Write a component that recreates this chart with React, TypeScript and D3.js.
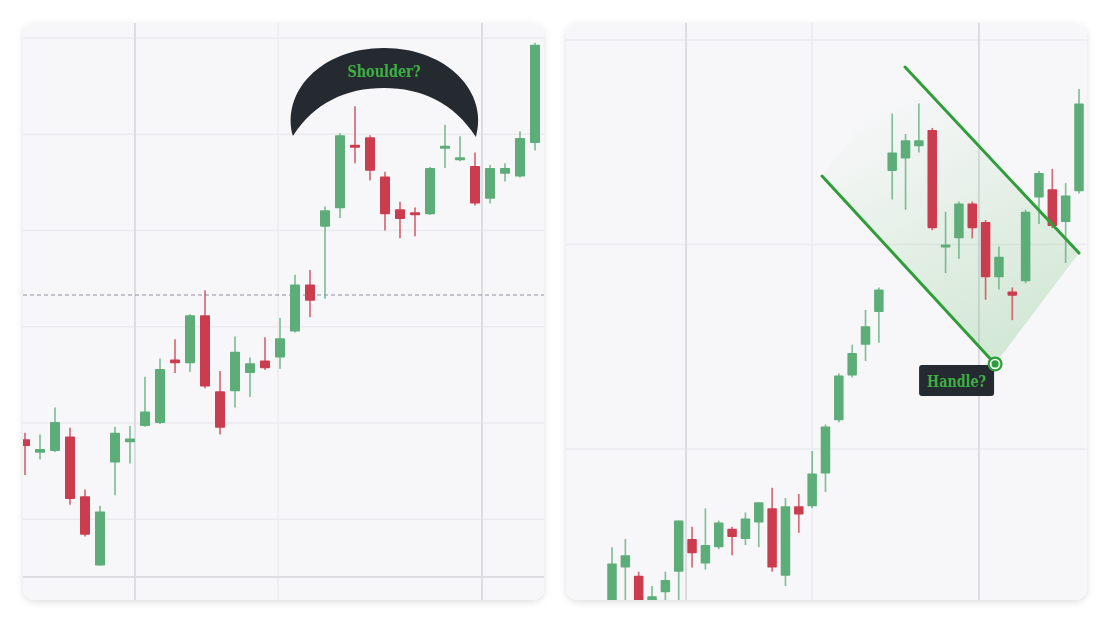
import React from "react";
import * as d3 from "d3";

// ---------- Left panel data (possible "shoulder") ----------
const leftOpen = [108.3,106.9,107.1,108.6,102.4,95.2,105.9,108.0,109.7,110.0,116.6,116.2,121.2,113.3,113.3,115.2,116.5,116.8,119.5,124.4,130.4,132.3,138.9,139.7,135.6,132.2,131.9,131.7,138.5,137.3,136.7,133.3,135.9,135.6,139.1];
const leftHigh = [109.0,108.8,111.6,109.5,103.1,101.4,109.6,109.7,114.8,116.7,118.7,121.3,123.8,115.4,119.0,116.8,118.9,120.9,125.4,125.9,132.5,140.1,142.9,139.9,136.1,133.0,132.4,136.6,141.0,139.8,138.1,136.8,137.0,140.3,149.5];
const leftLow = [104.6,106.2,107.0,101.5,98.2,95.2,102.5,105.8,109.6,109.9,115.2,115.3,113.6,108.8,111.6,112.7,115.5,115.6,119.4,121.0,122.9,131.3,137.0,135.2,130.0,129.2,129.4,131.6,136.5,137.2,132.6,132.8,135.1,135.5,138.3];
const leftClose = [107.6,107.3,110.1,102.1,98.4,100.8,109.0,108.4,111.2,115.6,116.2,121.2,113.8,109.5,117.4,116.2,115.7,118.8,124.4,122.7,132.1,139.9,138.6,136.2,131.7,131.2,131.6,136.5,138.8,137.6,132.8,136.5,136.5,139.6,149.3];
const leftPriceTicks = [100, 110, 120, 130, 140, 150];
const leftTimeGrid = [7.33, 16.87, 30.47];
const leftTimeGridStrong = [true, false, true];
const leftDashedLevel = 123.3;
const shoulderLabel = "Shoulder?";
const shoulderAnchor = { index: 23.93, price: 144.7 };

// ---------- Right panel data (possible "handle") ----------
const rightOpen = [192.1,194.2,193.8,192.5,193.0,194.0,195.6,194.4,195.2,196.1,195.6,196.4,197.1,193.8,197.2,197.2,198.8,201.4,203.6,205.1,206.7,213.6,214.2,214.8,215.6,209.9,210.3,212.0,211.1,208.4,207.7,208.2,212.3,212.7,211.1,212.6];
const rightHigh = [195.2,195.6,194.0,193.3,194.0,196.5,196.2,197.1,196.5,196.2,196.9,197.4,198.1,197.6,197.8,199.9,201.2,203.7,205.1,206.8,207.9,216.4,215.4,216.9,215.7,211.6,212.1,212.1,211.2,209.9,207.9,211.7,213.6,213.7,213.0,217.6];
const rightLow = [191.6,192.0,191.6,192.2,192.6,192.4,194.2,194.1,195.1,194.8,195.3,195.2,194.0,193.3,195.9,197.1,197.9,201.3,203.5,204.3,205.2,212.2,211.7,214.5,210.7,208.6,209.3,210.3,207.3,207.8,206.3,208.1,211.0,210.8,209.1,212.5];
const rightClose = [194.4,194.8,192.1,192.8,193.6,196.5,194.9,195.3,196.4,195.7,196.6,197.4,194.2,197.2,196.8,198.8,201.1,203.6,204.7,206.0,207.8,214.5,215.1,215.1,210.8,210.0,212.0,210.8,208.4,209.4,207.5,211.6,213.5,210.9,212.4,216.9];
const rightPriceTicks = [200, 210, 220];
const rightTimeGrid = [5.55, 14.99, 27.5];
const rightTimeGridStrong = [true, false, true];
const channelUpper = [{ index: 21.96, price: 218.68 }, { index: 35.0, price: 209.58 }];
const channelLower = [{ index: 15.74, price: 213.35 }, { index: 28.71, price: 204.16 }];
const handleLabel = "Handle?";

const GREEN = "#5dad79";
const RED = "#cb3d4e";
const LINE_GREEN = "#2f9e3a";
const TEXT_GREEN = "#3fae43";
const DARK = "#242a30";
const CARD_BG = "#f7f7f9";

type Card = { x: number; y: number; w: number; h: number };

function Candles({ o, h, l, c, x, y, bw }: any) {
  return (
    <g>
      {o.map((_: number, i: number) => {
        const up = c[i] >= o[i];
        const col = up ? GREEN : RED;
        const cx = x(i);
        const top = y(Math.max(o[i], c[i]));
        const bot = y(Math.min(o[i], c[i]));
        const bh = Math.max(bot - top, 3);
        return (
          <g key={i}>
            <line x1={cx} x2={cx} y1={y(h[i])} y2={y(l[i])} stroke={col} strokeWidth={1.7} opacity={0.75} />
            <rect x={cx - bw / 2} y={top} width={bw} height={bh} fill={col} rx={0.8} />
          </g>
        );
      })}
    </g>
  );
}

function Grid({ card, x, y, priceTicks, timeGrid, strong }: any) {
  return (
    <g>
      {priceTicks.map((t: number) => (
        <line key={"h" + t} x1={card.x} x2={card.x + card.w} y1={y(t)} y2={y(t)} stroke="#ebebef" strokeWidth={1.5} />
      ))}
      {timeGrid.map((t: number, i: number) => (
        <line key={"v" + i} x1={x(t)} x2={x(t)} y1={card.y} y2={card.y + card.h}
          stroke={strong[i] ? "#dcdce1" : "#ececf0"} strokeWidth={strong[i] ? 2 : 1.5} />
      ))}
    </g>
  );
}

export default function App() {
  const W = 1110, H = 623;
  const leftCard: Card = { x: 23, y: 23, w: 521, h: 577 };
  const rightCard: Card = { x: 566, y: 23, w: 521, h: 577 };

  const xL = d3.scaleLinear().domain([0, leftOpen.length - 1]).range([25, 535]);
  const yL = d3.scaleLinear().domain([94, 150]).range([577, 38]);
  const xR = d3.scaleLinear().domain([0, rightOpen.length - 1]).range([612, 1079]);
  const yR = d3.scaleLinear().domain([200, 220]).range([449, 40]);

  const ax = xL(shoulderAnchor.index);
  const ay = yL(shoulderAnchor.price);
  const crescent = `M${ax - 91},${ay + 47} C${ax - 103},${ay + 4} ${ax - 64},${ay - 41} ${ax},${ay - 41} C${ax + 64},${ay - 41} ${ax + 105},${ay + 4} ${ax + 92},${ay + 48} C${ax + 70},${ay + 14} ${ax + 38},${ay - 1} ${ax},${ay - 1} C${ax - 38},${ay - 1} ${ax - 70},${ay + 14} ${ax - 91},${ay + 47} Z`;

  const u0 = { x: xR(channelUpper[0].index), y: yR(channelUpper[0].price) };
  const u1 = { x: xR(channelUpper[1].index), y: yR(channelUpper[1].price) };
  const l0 = { x: xR(channelLower[0].index), y: yR(channelLower[0].price) };
  const l1 = { x: xR(channelLower[1].index), y: yR(channelLower[1].price) };
  const line = d3.line<{ x: number; y: number }>().x(d => d.x).y(d => d.y);
  const channelPoly = `M${l0.x},${l0.y} L${u0.x},${u0.y} L${u1.x},${u1.y} L${l1.x},${l1.y} Z`;

  return (
    <svg width={W} height={H} style={{ position: "absolute", left: 0, top: 0, background: "#ffffff" }}
      fontFamily="'DejaVu Serif', serif">
      <defs>
        <filter id="shadow" x="-5%" y="-5%" width="110%" height="112%">
          <feDropShadow dx="0" dy="2" stdDeviation="3.5" floodColor="#000" floodOpacity="0.13" />
        </filter>
        <clipPath id="clipL"><rect x={leftCard.x} y={leftCard.y} width={leftCard.w} height={leftCard.h} rx={12} /></clipPath>
        <clipPath id="clipR"><rect x={rightCard.x} y={rightCard.y} width={rightCard.w} height={rightCard.h} rx={12} /></clipPath>
        <linearGradient id="chanGrad" gradientUnits="userSpaceOnUse" x1={u0.x - 40} y1={u0.y + 40} x2={l1.x} y2={l1.y}>
          <stop offset="0" stopColor="#4caf50" stopOpacity={0.0} />
          <stop offset="1" stopColor="#4caf50" stopOpacity={0.22} />
        </linearGradient>
      </defs>

      {/* Cards */}
      <rect x={leftCard.x} y={leftCard.y} width={leftCard.w} height={leftCard.h} rx={12} fill={CARD_BG} filter="url(#shadow)" />
      <rect x={rightCard.x} y={rightCard.y} width={rightCard.w} height={rightCard.h} rx={12} fill={CARD_BG} filter="url(#shadow)" />

      {/* Left panel */}
      <g clipPath="url(#clipL)">
        <Grid card={leftCard} x={xL} y={yL} priceTicks={leftPriceTicks} timeGrid={leftTimeGrid} strong={leftTimeGridStrong} />
        <line x1={leftCard.x} x2={leftCard.x + leftCard.w} y1={yL(94)} y2={yL(94)} stroke="#dcdce1" strokeWidth={2} />
        <line x1={leftCard.x} x2={leftCard.x + leftCard.w} y1={yL(leftDashedLevel)} y2={yL(leftDashedLevel)}
          stroke="#8f90a0" strokeWidth={1.2} strokeDasharray="4 3" />
        <Candles o={leftOpen} h={leftHigh} l={leftLow} c={leftClose} x={xL} y={yL} bw={10} />
        <path d={crescent} fill={DARK} />
        <text x={ax} y={ay - 12.5} textAnchor="middle" fill={TEXT_GREEN} fontWeight="bold" fontSize={17}
          textLength={73} lengthAdjust="spacingAndGlyphs">{shoulderLabel}</text>
      </g>

      {/* Right panel */}
      <g clipPath="url(#clipR)">
        <Grid card={rightCard} x={xR} y={yR} priceTicks={rightPriceTicks} timeGrid={rightTimeGrid} strong={rightTimeGridStrong} />
        <path d={channelPoly} fill="url(#chanGrad)" />
        <Candles o={rightOpen} h={rightHigh} l={rightLow} c={rightClose} x={xR} y={yR} bw={9.5} />
        <path d={line([u0, u1]) || ""} stroke={LINE_GREEN} strokeWidth={3} strokeLinecap="round" fill="none" />
        <path d={line([l0, l1]) || ""} stroke={LINE_GREEN} strokeWidth={3} strokeLinecap="round" fill="none" />
        <rect x={l1.x - 76} y={l1.y + 1} width={75} height={31} rx={3} fill={DARK} />
        <text x={l1.x - 38.5} y={l1.y + 23} textAnchor="middle" fill={TEXT_GREEN} fontWeight="bold" fontSize={17}
          textLength={59} lengthAdjust="spacingAndGlyphs">{handleLabel}</text>
        <circle cx={l1.x} cy={l1.y} r={7.5} fill={LINE_GREEN} />
        <circle cx={l1.x} cy={l1.y} r={5.3} fill="#ffffff" />
        <circle cx={l1.x} cy={l1.y} r={3.6} fill={LINE_GREEN} />
      </g>
    </svg>
  );
}
